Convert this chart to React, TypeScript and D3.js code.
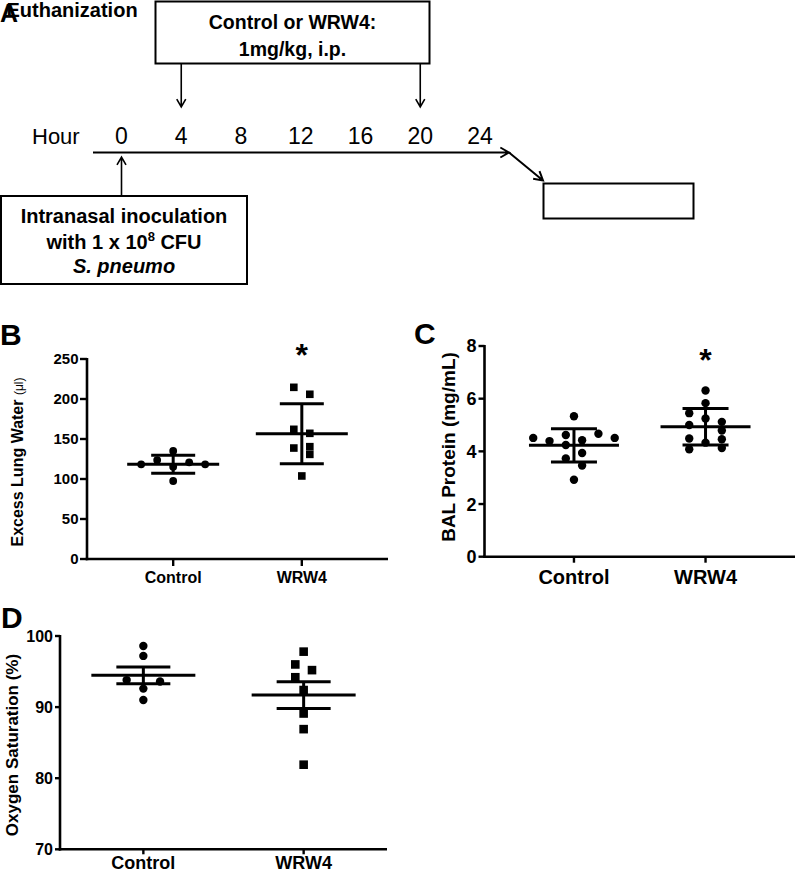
import React from 'react';
import * as d3 from 'd3';

const FONT = "'Liberation Sans', Arial, Helvetica, sans-serif";

// ---------- Panel A (timeline) ----------
const hours = [0, 4, 8, 12, 16, 20, 24];
const treatmentHours = [4, 20];
const inoculationHour = 0;

// ---------- Groups ----------
const groups = ['Control', 'WRW4'];

// ---------- Panel B: Excess lung water (µl) ----------
const lungWaterControl = [118.4, 123.7, 135, 115.4, 97.5, 120.9, 118.4];
const lungWaterControlSlot = [-2, -1, 0, 0, 0, 1, 2];
const lungWaterWRW4 = [214.6, 205.9, 162.1, 157.1, 138.7, 140.4, 130.8, 103.8];
const lungWaterWRW4Slot = [-0.5, 0.5, -0.5, 0.5, -0.5, 0.5, 0.5, 0];
const lungWaterTicks = [0, 50, 100, 150, 200, 250];

// ---------- Panel C: BAL protein (mg/mL) ----------
const balControl = [4.51, 4.39, 4.62, 4.24, 3.73, 5.33, 2.92, 4.42, 3.94, 3.46, 4.67, 4.51];
const balControlSlot = [-2.5, -1.5, -0.5, -0.5, -0.5, 0, 0, 0.5, 0.5, 0.5, 1.5, 2.5];
const balWRW4 = [6.31, 5.83, 5.45, 5.25, 5.0, 5.12, 4.79, 4.49, 4.46, 4.33, 4.08, 4.13];
const balWRW4Slot = [0, 0, -1, 0, -1, 1, 1, -1, 1, 0, -1, 1];
const balTicks = [0, 2, 4, 6, 8];

// ---------- Panel D: Oxygen saturation (%) ----------
const o2Control = [98.6, 97.2, 93.8, 92.6, 93.6, 91.0];
const o2ControlSlot = [0, 0, -1, 0, 1, 0];
const o2WRW4 = [97.8, 96.0, 95.2, 94.2, 92.4, 89.1, 86.9, 81.9];
const o2WRW4Slot = [0, -0.5, 0.5, -0.5, 0, 0, 0, 0];
const o2Ticks = [70, 80, 90, 100];

function arrow(x1: number, y1: number, x2: number, y2: number, len = 9, spread = Math.PI / 6) {
  const a = Math.atan2(y2 - y1, x2 - x1);
  const ax1 = x2 - len * Math.cos(a - spread);
  const ay1 = y2 - len * Math.sin(a - spread);
  const ax2 = x2 - len * Math.cos(a + spread);
  const ay2 = y2 - len * Math.sin(a + spread);
  return `M${x1},${y1}L${x2},${y2}M${ax1},${ay1}L${x2},${y2}L${ax2},${ay2}`;
}

type Series = { values: number[]; slots: number[]; shape: 'circle' | 'square'; star?: boolean };

type PanelProps = {
  x0: number; x1: number; yTop: number; yBottom: number; pad: number;
  domain: [number, number]; ticks: number[];
  series: Series[]; err: 'sd' | 'sem';
  slotW: number; r: number; sq: number;
  meanHalf: number; capHalf: number;
  tickFont: number; tickLen: number; tickGap: number;
  catFont: number; catBaseline: number;
  ylabel: React.ReactNode; ylabelX: number; ylabelY: number; ylabelFont: number;
  letter: string; letterX: number; letterY: number;
  starY?: number;
};

function ScatterPanel(p: PanelProps) {
  const y = d3.scaleLinear().domain(p.domain).range([p.yBottom, p.yTop]);
  const x = d3.scalePoint<string>().domain(groups).range([p.x0, p.x1]).padding(p.pad);
  return (
    <g fontFamily={FONT} fontWeight="bold">
      <text x={p.letterX} y={p.letterY} fontSize={30} fontWeight="bold">{p.letter}</text>
      {/* axes */}
      <line x1={p.x0} x2={p.x0} y1={p.yTop - 1} y2={p.yBottom + 1.25} stroke="#000" strokeWidth={2.6} />
      <line x1={p.x0 - 1.3} x2={p.x1} y1={p.yBottom} y2={p.yBottom} stroke="#000" strokeWidth={2.6} />
      {p.ticks.map((t) => (
        <g key={t}>
          <line x1={p.x0 - p.tickLen} x2={p.x0} y1={y(t)} y2={y(t)} stroke="#000" strokeWidth={2.4} />
          <text x={p.x0 - p.tickLen - p.tickGap} y={y(t)} dy="0.36em" textAnchor="end" fontSize={p.tickFont}>{t}</text>
        </g>
      ))}
      {groups.map((g) => (
        <g key={g}>
          <line x1={x(g)} x2={x(g)} y1={p.yBottom} y2={p.yBottom + p.tickLen} stroke="#000" strokeWidth={2.4} />
          <text x={x(g)} y={p.catBaseline} textAnchor="middle" fontSize={p.catFont}>{g}</text>
        </g>
      ))}
      <text transform={`translate(${p.ylabelX},${p.ylabelY}) rotate(-90)`} textAnchor="middle" dy="0.36em" fontSize={p.ylabelFont}>{p.ylabel}</text>
      {p.series.map((s, gi) => {
        const cx = x(groups[gi]) as number;
        const m = d3.mean(s.values) as number;
        const sd = d3.deviation(s.values) as number;
        const e = p.err === 'sd' ? sd : sd / Math.sqrt(s.values.length);
        return (
          <g key={gi}>
            {s.values.map((v, i) => {
              const px = cx + s.slots[i] * p.slotW;
              const py = y(v);
              return s.shape === 'circle' ? (
                <circle key={i} cx={px} cy={py} r={p.r} fill="#000" />
              ) : (
                <rect key={i} x={px - p.sq / 2} y={py - p.sq / 2} width={p.sq} height={p.sq} fill="#000" />
              );
            })}
            <line x1={cx - p.meanHalf} x2={cx + p.meanHalf} y1={y(m)} y2={y(m)} stroke="#000" strokeWidth={3} />
            <line x1={cx - p.capHalf} x2={cx + p.capHalf} y1={y(m + e)} y2={y(m + e)} stroke="#000" strokeWidth={3} />
            <line x1={cx - p.capHalf} x2={cx + p.capHalf} y1={y(m - e)} y2={y(m - e)} stroke="#000" strokeWidth={3} />
            <line x1={cx} x2={cx} y1={y(m - e)} y2={y(m + e)} stroke="#000" strokeWidth={3} />
            {s.star && p.starY !== undefined && (
              <text x={cx} y={p.starY + 18} textAnchor="middle" fontSize={32}>*</text>
            )}
          </g>
        );
      })}
    </g>
  );
}

function PanelA() {
  const hx = d3.scaleLinear().domain([0, 24]).range([121.5, 480]);
  const lineY = 152.5;
  return (
    <g fontFamily={FONT}>
      <text x={6.5} y={17} fontSize={20} fontWeight="bold">Euthanization</text>
      <text x={0} y={22} fontSize={25} fontWeight="bold">A</text>
      {/* treatment box */}
      <rect x={155.5} y={1.5} width={274} height={62} fill="#fff" stroke="#000" strokeWidth={2} />
      <text x={292.5} y={28.5} textAnchor="middle" fontSize={19.5} fontWeight="bold">Control or WRW4:</text>
      <text x={292.5} y={55.5} textAnchor="middle" fontSize={19.5} fontWeight="bold">1mg/kg, i.p.</text>
      {treatmentHours.map((h) => (
        <path key={h} d={arrow(hx(h), 63.5, hx(h), 107)} fill="none" stroke="#000" strokeWidth={1.6} />
      ))}
      {/* hour labels */}
      <text x={32} y={143.5} fontSize={22}>Hour</text>
      {hours.map((h) => (
        <text key={h} x={hx(h)} y={143.5} textAnchor="middle" fontSize={23}>{h}</text>
      ))}
      {/* timeline */}
      <path d={arrow(93, lineY, hx(24) + 29, lineY, 10)} fill="none" stroke="#000" strokeWidth={2} />
      <path d={arrow(hx(24) + 29, lineY, 543, 180.5, 10)} fill="none" stroke="#000" strokeWidth={2} />
      <rect x={543.5} y={183.5} width={150} height={35} fill="#fff" stroke="#000" strokeWidth={2} />
      {/* inoculation */}
      <path d={arrow(hx(inoculationHour), 196, hx(inoculationHour), 157)} fill="none" stroke="#000" strokeWidth={1.6} />
      <rect x={1} y={196} width={246} height={88} fill="#fff" stroke="#000" strokeWidth={2} />
      <text x={124} y={222.5} textAnchor="middle" fontSize={20} fontWeight="bold">Intranasal inoculation</text>
      <text x={124} y={248.5} textAnchor="middle" fontSize={20} fontWeight="bold">
        with 1 x 10<tspan fontSize={13} dy={-8}>8</tspan><tspan dy={8}> CFU</tspan>
      </text>
      <text x={124} y={273} textAnchor="middle" fontSize={20} fontWeight="bold" fontStyle="italic">S. pneumo</text>
    </g>
  );
}

export default function App() {
  return (
    <svg width={799} height={874} style={{ position: 'absolute', left: 0, top: 0, background: '#fff' }}>
      <rect width={799} height={874} fill="#fff" />
      <PanelA />
      <ScatterPanel
        x0={87} x1={388} yTop={359} yBottom={559} pad={0.67}
        domain={[0, 250]} ticks={lungWaterTicks}
        series={[
          { values: lungWaterControl, slots: lungWaterControlSlot, shape: 'circle' },
          { values: lungWaterWRW4, slots: lungWaterWRW4Slot, shape: 'square', star: true },
        ]}
        err="sd" slotW={16} r={3.9} sq={7.6} meanHalf={46} capHalf={22}
        tickFont={15} tickLen={7} tickGap={1.5}
        catFont={16} catBaseline={583}
        ylabel={<>Excess Lung Water <tspan fontSize={12} fontWeight="normal">(μl)</tspan></>}
        ylabelX={17} ylabelY={462} ylabelFont={16}
        letter="B" letterX={0} letterY={345} starY={348}
      />
      <ScatterPanel
        x0={484.5} x1={795} yTop={346} yBottom={556.7} pad={0.68}
        domain={[0, 8]} ticks={balTicks}
        series={[
          { values: balControl, slots: balControlSlot, shape: 'circle' },
          { values: balWRW4, slots: balWRW4Slot, shape: 'circle', star: true },
        ]}
        err="sd" slotW={16.3} r={4.2} sq={8} meanHalf={45} capHalf={23}
        tickFont={18} tickLen={6} tickGap={2}
        catFont={20} catBaseline={583.5}
        ylabel="BAL Protein (mg/mL)"
        ylabelX={448} ylabelY={447} ylabelFont={19}
        letter="C" letterX={414} letterY={344} starY={353}
      />
      <ScatterPanel
        x0={60} x1={387} yTop={636} yBottom={849.3} pad={0.52}
        domain={[70, 100]} ticks={o2Ticks}
        series={[
          { values: o2Control, slots: o2ControlSlot, shape: 'circle' },
          { values: o2WRW4, slots: o2WRW4Slot, shape: 'square' },
        ]}
        err="sem" slotW={16.7} r={4.2} sq={8.6} meanHalf={52} capHalf={27}
        tickFont={16} tickLen={5} tickGap={2}
        catFont={18} catBaseline={869}
        ylabel="Oxygen Saturation (%)"
        ylabelX={12} ylabelY={745} ylabelFont={17}
        letter="D" letterX={1} letterY={628}
      />
    </svg>
  );
}
